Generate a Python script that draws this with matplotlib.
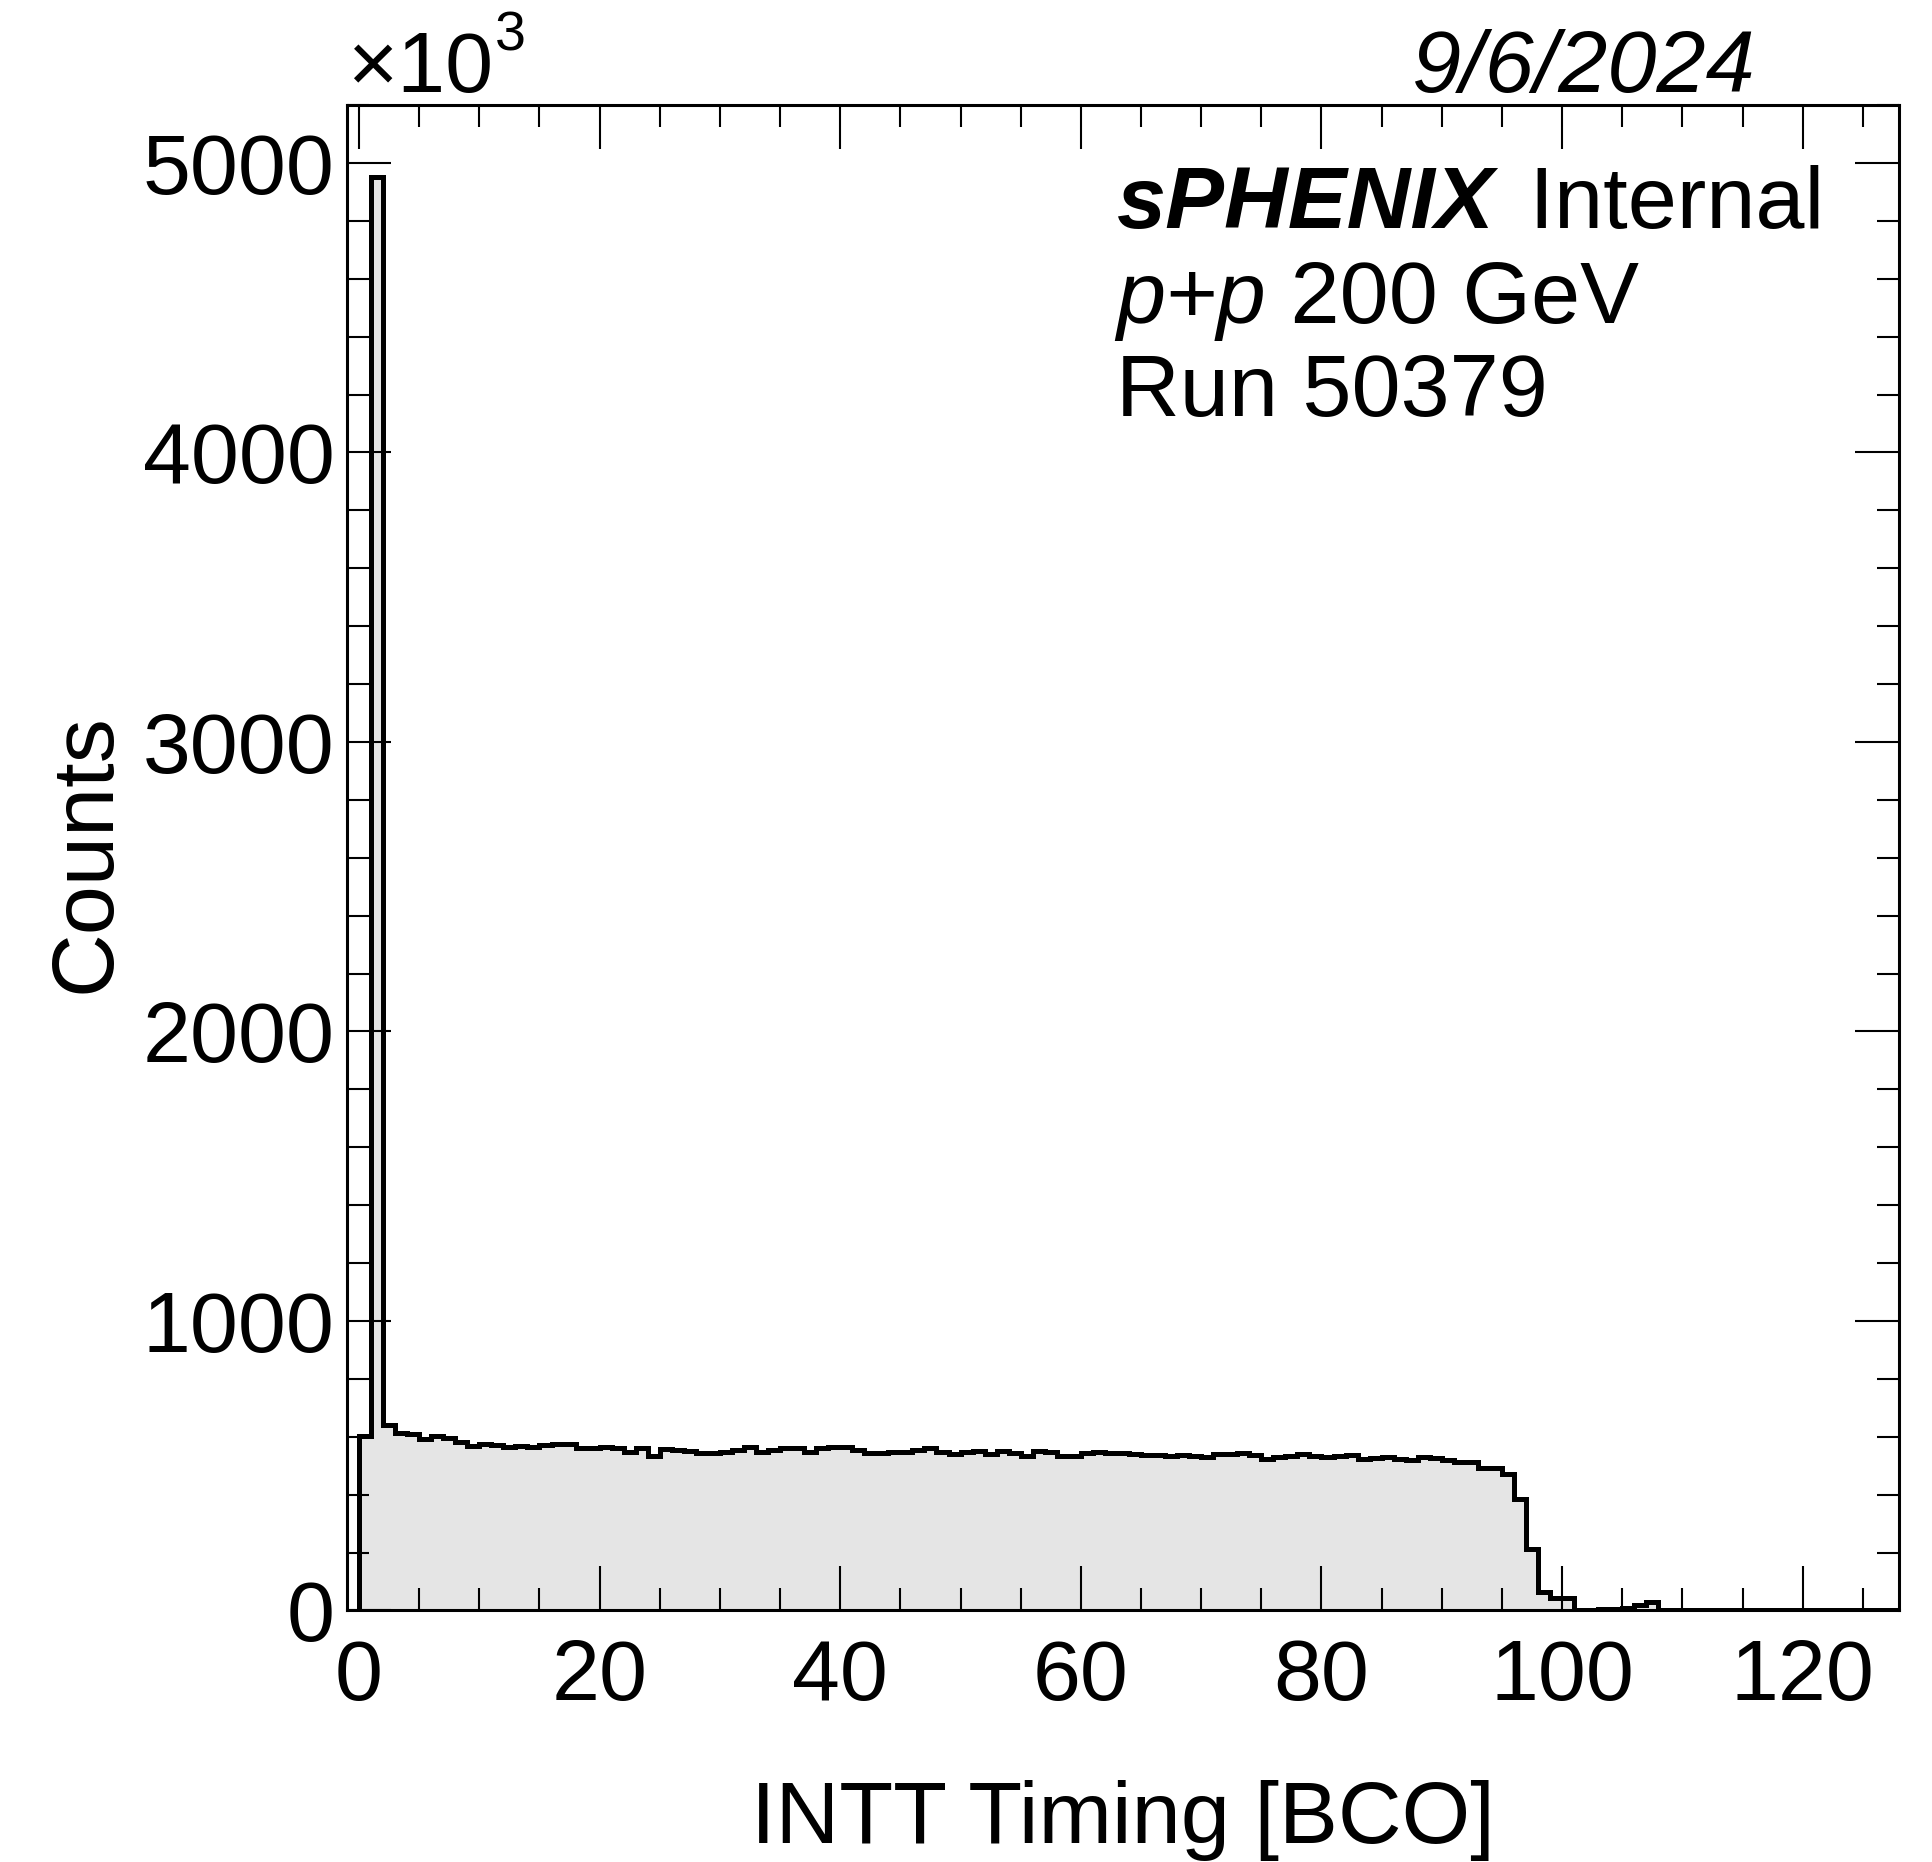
import matplotlib
matplotlib.use("Agg")
import matplotlib.pyplot as plt
from matplotlib.ticker import MultipleLocator
import numpy as np

# ---- data (counts in units of 10^3), 128 bins of width 1 starting at 0 ----
bin_lo = 0
bin_hi = 128
counts_k = [
    603, 4950, 640, 614, 610, 591, 602, 597, 583, 569,
    574, 571, 565, 569, 565, 571, 574, 574, 560, 560,
    565, 560, 548, 560, 535, 557, 554, 551, 545, 543,
    548, 554, 563, 548, 554, 562, 560, 548, 560, 565,
    563, 554, 545, 545, 548, 548, 554, 560, 548, 540,
    546, 551, 541, 551, 545, 532, 551, 548, 533, 532,
    545, 546, 545, 543, 540, 536, 536, 533, 537, 534,
    529, 540, 542, 543, 536, 523, 529, 532, 540, 532,
    529, 533, 536, 524, 527, 529, 524, 519, 529, 526,
    519, 512, 514, 493, 493, 471, 385, 212, 62, 42,
    42, 3, 3, 4, 5, 8, 20, 30, 1, 1,
    1, 1, 1, 1, 1, 1, 1, 1, 1, 1,
    1, 1, 1, 1, 1, 1, 1, 1,
]
x_ticks = [0, 20, 40, 60, 80, 100, 120]
y_ticks = [0, 1000, 2000, 3000, 4000, 5000]

x_title = "INTT Timing [BCO]"
y_title = "Counts"
date_text = "9/6/2024"

FONT = "Liberation Sans"
FS = 62
FS_T = 63.5

fig = plt.figure(figsize=(19.32, 18.62), dpi=100)
ax = fig.add_axes([0.1796, 0.1351, 0.8033, 0.8085])

edges = np.arange(bin_lo, bin_hi + 1, 1)
vals = np.array(counts_k, dtype=float)

ax.stairs(vals, edges, fill=True, color="#e5e5e5", baseline=0, zorder=1)
ax.stairs(vals, edges, fill=False, color="black", linewidth=3.6, baseline=0, zorder=2)

ax.set_xlim(-1, 128)
ax.set_ylim(0, 5200)

ax.set_xticks(x_ticks)
ax.set_yticks(y_ticks)
ax.xaxis.set_minor_locator(MultipleLocator(5))
ax.yaxis.set_minor_locator(MultipleLocator(200))

ax.tick_params(which="both", direction="in", top=True, right=True, width=1.5)
ax.tick_params(which="major", length=32)
ax.tick_params(which="minor", length=16)
ax.tick_params(axis="x", which="major", pad=20)
ax.tick_params(axis="y", which="major", pad=9)
for lab in ax.get_xticklabels() + ax.get_yticklabels():
    lab.set_fontfamily(FONT)
    lab.set_fontsize(FS)
for sp in ax.spines.values():
    sp.set_linewidth(2.2)

# axis titles
fig.text(0.5813, 1 - 1843 / 1862, x_title, ha="center", va="baseline",
         fontsize=FS_T, family=FONT)
fig.text(0.045, 0.542, y_title, ha="center", va="center", rotation=90,
         fontsize=FS_T, family=FONT)

# x10^3 multiplier
t_mult = fig.text(347 / 1932, 1 - 92 / 1862, "\u00d710", ha="left", va="baseline",
                  fontsize=62, family=FONT)
ax.annotate("3", xy=(1, 1), xycoords=t_mult, ha="left", va="top",
            fontsize=40, family=FONT, xytext=(1, 14), textcoords="offset points",
            annotation_clip=False)

# date
fig.text(1756 / 1932, 1 - 92 / 1862, date_text, ha="right", va="baseline",
         fontsize=FS_T, family=FONT, style="italic")

# label block
x0 = 1116 / 1932
t1 = fig.text(x0, 1 - 228 / 1862, "sPHENIX", ha="left", va="baseline",
              fontsize=FS_T, family=FONT, weight="bold", style="italic")
ax.annotate(" Internal", xy=(1, 0), xycoords=t1, ha="left", va="bottom",
            fontsize=FS_T, family=FONT, xytext=(8, 0), textcoords="offset points",
            annotation_clip=False)
t2 = fig.text(x0, 1 - 323 / 1862, "p+p", ha="left", va="baseline",
              fontsize=FS_T, family=FONT, style="italic")
ax.annotate(" 200 GeV", xy=(1, 0), xycoords=t2, ha="left", va="bottom",
            fontsize=FS_T, family=FONT, annotation_clip=False)
fig.text(x0, 1 - 416 / 1862, "Run 50379", ha="left", va="baseline",
         fontsize=FS_T, family=FONT)

fig.savefig("out.png", dpi=100)
